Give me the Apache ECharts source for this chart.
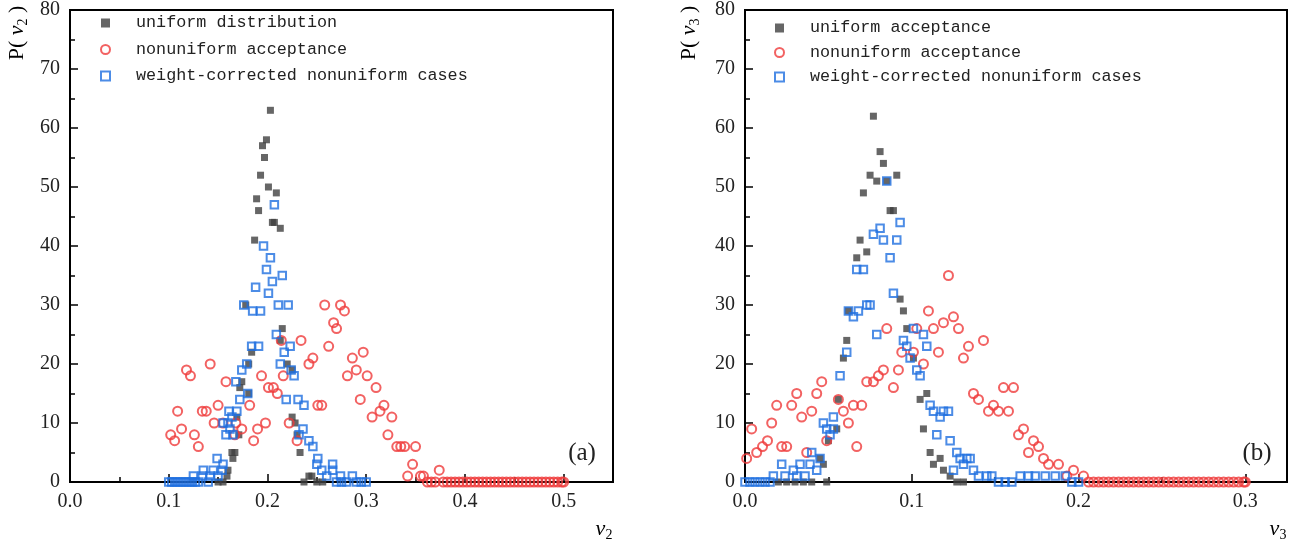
<!DOCTYPE html>
<html><head><meta charset="utf-8">
<script src="https://cdn.jsdelivr.net/npm/echarts@6/dist/echarts.min.js"></script>
<style>html,body{margin:0;padding:0;background:#fff}#c{width:1310px;height:546px}</style>
</head><body><div id="c"></div>
<script>
// ---- Panel (a): P(v2) ----
const uniformV2 = [[0.150,0],[0.155,0],[0.159,1],[0.160,2],[0.164,5],[0.165,4],[0.167,5],[0.169,11],[0.171,8],[0.172,16],[0.174,17],[0.178,30],[0.181,15],[0.181,20],[0.184,22],[0.187,41],[0.189,48],[0.191,46],[0.193,52],[0.195,57],[0.197,55],[0.199,58],[0.201,50],[0.203,63],[0.205,44],[0.207,44],[0.209,49],[0.213,43],[0.213,24],[0.215,26],[0.220,20],[0.225,19],[0.225,11],[0.228,10],[0.230,8],[0.233,5],[0.237,0],[0.242,1],[0.245,1],[0.250,0],[0.256,0]];
const nonuniformV2 = [[0.102,8],[0.106,7],[0.109,12],[0.113,9],[0.118,19],[0.122,18],[0.126,8],[0.130,6],[0.134,12],[0.138,12],[0.142,20],[0.146,10],[0.150,13],[0.155,10],[0.158,17],[0.167,8],[0.168,10],[0.174,9],[0.182,13],[0.186,7],[0.190,9],[0.194,18],[0.198,10],[0.201,16],[0.206,16],[0.210,15],[0.214,24],[0.216,18],[0.222,10],[0.230,7],[0.234,24],[0.242,20],[0.246,21],[0.251,13],[0.255,13],[0.258,30],[0.262,23],[0.267,27],[0.270,26],[0.274,30],[0.278,29],[0.281,18],[0.286,21],[0.290,19],[0.294,14],[0.297,22],[0.301,18],[0.306,11],[0.310,16],[0.314,12],[0.318,13],[0.322,8],[0.326,11],[0.331,6],[0.335,6],[0.339,6],[0.350,6],[0.342,1],[0.347,3],[0.355,1],[0.358,1],[0.374,2]];
const nonuniformZerosV2 = [0.362,0.366,0.370,0.378,0.382,0.386,0.390,0.394,0.398,0.402,0.406,0.410,0.414,0.418,0.422,0.426,0.430,0.434,0.438,0.442,0.446,0.450,0.454,0.458,0.462,0.466,0.470,0.474,0.478,0.482,0.486,0.490,0.494,0.498,0.500];
const correctedV2 = [[0.125,1],[0.134,1],[0.135,2],[0.142,1],[0.145,2],[0.149,4],[0.150,1],[0.154,2],[0.155,3],[0.155,10],[0.158,8],[0.160,10],[0.161,12],[0.162,9],[0.164,11],[0.165,8],[0.168,17],[0.169,12],[0.172,14],[0.174,19],[0.176,30],[0.179,20],[0.180,15],[0.184,23],[0.185,29],[0.188,33],[0.191,23],[0.193,29],[0.196,40],[0.199,36],[0.201,32],[0.203,38],[0.205,34],[0.207,47],[0.209,25],[0.211,30],[0.213,20],[0.215,35],[0.217,22],[0.219,14],[0.221,30],[0.223,23],[0.224,19],[0.227,18],[0.231,14],[0.232,8],[0.236,9],[0.237,13],[0.242,7],[0.246,6],[0.250,3],[0.251,4],[0.255,2],[0.260,1],[0.266,3],[0.266,2],[0.274,1],[0.286,1]];
const correctedZerosV2 = [0.100,0.103,0.106,0.109,0.112,0.115,0.118,0.121,0.124,0.127,0.130,0.140,0.270,0.275,0.280,0.290,0.295,0.300];

// ---- Panel (b): P(v3) ----
const uniformV3 = [[0.020,0],[0.025,0],[0.030,0],[0.035,0],[0.040,0],[0.045,4],[0.047,3],[0.049,0],[0.050,7],[0.055,9],[0.056,14],[0.059,21],[0.061,24],[0.062,29],[0.067,38],[0.069,41],[0.071,49],[0.073,39],[0.075,52],[0.077,62],[0.079,51],[0.081,56],[0.083,54],[0.085,51],[0.087,46],[0.089,46],[0.091,52],[0.093,31],[0.095,29],[0.097,26],[0.101,21],[0.105,14],[0.107,9],[0.109,15],[0.111,5],[0.113,3],[0.117,4],[0.119,2],[0.123,1],[0.127,0],[0.131,0]];
const nonuniformV3 = [[0.001,4],[0.004,9],[0.007,5],[0.0105,6],[0.0135,7],[0.016,10],[0.019,13],[0.022,6],[0.025,6],[0.028,13],[0.031,15],[0.034,11],[0.037,5],[0.040,12],[0.043,15],[0.046,17],[0.049,7],[0.056,14],[0.059,12],[0.062,10],[0.065,13],[0.067,6],[0.070,13],[0.073,17],[0.077,17],[0.080,18],[0.083,19],[0.085,26],[0.089,16],[0.092,19],[0.094,22],[0.101,22],[0.103,26],[0.107,20],[0.110,29],[0.113,26],[0.116,22],[0.119,27],[0.122,35],[0.125,28],[0.128,26],[0.131,21],[0.134,23],[0.137,15],[0.140,14],[0.143,24],[0.146,12],[0.149,13],[0.152,12],[0.155,16],[0.158,12],[0.161,16],[0.164,8],[0.167,9],[0.170,5],[0.173,7],[0.176,6],[0.179,4],[0.182,3],[0.188,3],[0.193,1],[0.197,2],[0.203,1]];
const nonuniformZerosV3 = [0.206,0.209,0.212,0.215,0.218,0.221,0.224,0.227,0.230,0.233,0.236,0.239,0.242,0.245,0.248,0.251,0.254,0.257,0.260,0.263,0.266,0.269,0.272,0.275,0.278,0.281,0.284,0.287,0.290,0.293,0.296,0.299,0.300];
const correctedV3 = [[0.017,1],[0.022,3],[0.024,1],[0.029,2],[0.031,1],[0.033,3],[0.036,1],[0.039,3],[0.040,5],[0.043,2],[0.045,4],[0.047,10],[0.049,9],[0.051,8],[0.053,9],[0.053,11],[0.057,18],[0.061,22],[0.062,29],[0.065,28],[0.067,36],[0.068,29],[0.071,36],[0.073,30],[0.075,30],[0.077,42],[0.079,25],[0.081,43],[0.083,41],[0.085,51],[0.087,38],[0.089,32],[0.091,41],[0.093,44],[0.095,24],[0.097,23],[0.099,21],[0.101,26],[0.103,19],[0.105,18],[0.107,25],[0.109,23],[0.111,13],[0.113,12],[0.115,8],[0.117,11],[0.119,12],[0.122,12],[0.123,7],[0.125,2],[0.127,5],[0.129,4],[0.131,3],[0.133,4],[0.135,4],[0.137,2],[0.140,1],[0.145,1],[0.148,1],[0.165,1],[0.170,1],[0.174,1],[0.180,1],[0.186,1],[0.192,1]];
const correctedZerosV3 = [0.000,0.003,0.006,0.009,0.012,0.015,0.152,0.156,0.160,0.196,0.200];

const legendNamesA = ['uniform distribution','nonuniform acceptance','weight-corrected nonuniform cases'];
const legendNamesB = ['uniform acceptance','nonuniform acceptance','weight-corrected nonuniform cases'];
const yTicks = [0,80,10];

const BLACK = '#404040', RED = '#ef3b3b', BLUE = '#1f6fe0';
const SERIF = 'Liberation Serif', MONO = 'Liberation Mono';
const zeros = arr => arr.map(v => [v, 0]);

function xAxis(idx, max) {
  return {
    type: 'value', gridIndex: idx, min: 0, max: max, interval: 0.1,
    axisLine: { onZero: false, lineStyle: { color: '#000', width: 2 } },
    axisTick: { inside: true, length: 8, lineStyle: { color: '#000', width: 1.5 } },
    minorTick: { show: true, splitNumber: 2, length: 5, lineStyle: { color: '#000', width: 1.5 } },
    splitLine: { show: false }, minorSplitLine: { show: false },
    axisLabel: { formatter: v => v.toFixed(1), fontFamily: SERIF, fontSize: 20, color: '#222', margin: 10, showMaxLabel: false }
  };
}
function yAxis(idx) {
  return {
    type: 'value', gridIndex: idx, min: yTicks[0], max: yTicks[1], interval: yTicks[2],
    axisLine: { onZero: false, lineStyle: { color: '#000', width: 2 } },
    axisTick: { inside: true, length: 8, lineStyle: { color: '#000', width: 1.5 } },
    minorTick: { show: true, splitNumber: 2, length: 5, lineStyle: { color: '#000', width: 1.5 } },
    splitLine: { show: false }, minorSplitLine: { show: false },
    axisLabel: { fontFamily: SERIF, fontSize: 20, color: '#222', margin: 10 }
  };
}
function black(name, idx, data) {
  return { type: 'scatter', name, xAxisIndex: idx, yAxisIndex: idx, data, symbol: 'rect', symbolSize: 7,
    itemStyle: { color: BLACK }, z: 2 };
}
function red(name, idx, data) {
  return { type: 'scatter', name, xAxisIndex: idx, yAxisIndex: idx, data, symbol: 'circle', symbolSize: 9,
    itemStyle: { color: 'rgba(0,0,0,0)', borderColor: RED, borderWidth: 2 }, z: 3 };
}
function blue(name, idx, data) {
  return { type: 'scatter', name, xAxisIndex: idx, yAxisIndex: idx, data, symbol: 'rect', symbolSize: 7.5,
    itemStyle: { color: 'rgba(0,0,0,0)', borderColor: BLUE, borderWidth: 2 }, z: 4 };
}
function legend(left, top, gap, names) {
  return { orient: 'vertical', left, top, itemWidth: 9, itemHeight: 9, itemGap: gap, data: names,
    selectedMode: false,
    textStyle: { fontFamily: MONO, fontSize: 16.75, color: '#222', lineHeight: 18, padding: [0, 0, 0, 21] } };
}
function richName(x, y, main, sub, rot) {
  return { type: 'text', x, y, rotation: rot, style: {
    text: main === 'P' ? '{n|P(}{v| v}{s|' + sub + '}{n| )}' : '{v|v}{s|' + sub + '}',
    textAlign: 'center', textVerticalAlign: 'middle',
    rich: {
      n: { fontFamily: SERIF, fontSize: 22, color: '#222', lineHeight: 24, verticalAlign: 'top' },
      v: { fontFamily: SERIF, fontStyle: 'italic', fontSize: 22, color: '#222', lineHeight: 24, verticalAlign: 'top' },
      s: { fontFamily: SERIF, fontSize: 14, color: '#222', lineHeight: 14, verticalAlign: 'bottom' }
    } } };
}

const chart = echarts.init(document.getElementById('c'), null, { renderer: 'canvas' });
chart.setOption({
  backgroundColor: '#fff',
  animation: false,
  grid: [
    { left: 70, right: 697, top: 7, bottom: 64, show: true, borderColor: '#000', borderWidth: 2 },
    { left: 745, right: 23, top: 7, bottom: 64, show: true, borderColor: '#000', borderWidth: 2 }
  ],
  xAxis: [xAxis(0, 0.55), xAxis(1, 0.325)],
  yAxis: [yAxis(0), yAxis(1)],
  legend: [legend(95, 9, 8.5, legendNamesA), legend(769, 14, 6.5, legendNamesB)],
  series: [
    black(legendNamesA[0], 0, uniformV2),
    red(legendNamesA[1], 0, nonuniformV2.concat(zeros(nonuniformZerosV2))),
    blue(legendNamesA[2], 0, correctedV2.concat(zeros(correctedZerosV2))),
    black(legendNamesB[0], 1, uniformV3),
    red(legendNamesB[1], 1, nonuniformV3.concat(zeros(nonuniformZerosV3))),
    blue(legendNamesB[2], 1, correctedV3.concat(zeros(correctedZerosV3)))
  ],
  graphic: [
    richName(18, 33, 'P', '2', Math.PI / 2),
    richName(690, 33, 'P', '3', Math.PI / 2),
    richName(604, 530, 'v', '2', 0),
    richName(1278, 530, 'v', '3', 0),
    { type: 'text', x: 582, y: 453, style: { text: '(a)', fontFamily: SERIF, fontSize: 25, fill: '#222', textAlign: 'center', textVerticalAlign: 'middle' } },
    { type: 'text', x: 1257, y: 453, style: { text: '(b)', fontFamily: SERIF, fontSize: 25, fill: '#222', textAlign: 'center', textVerticalAlign: 'middle' } }
  ]
});
</script>
</body></html>
